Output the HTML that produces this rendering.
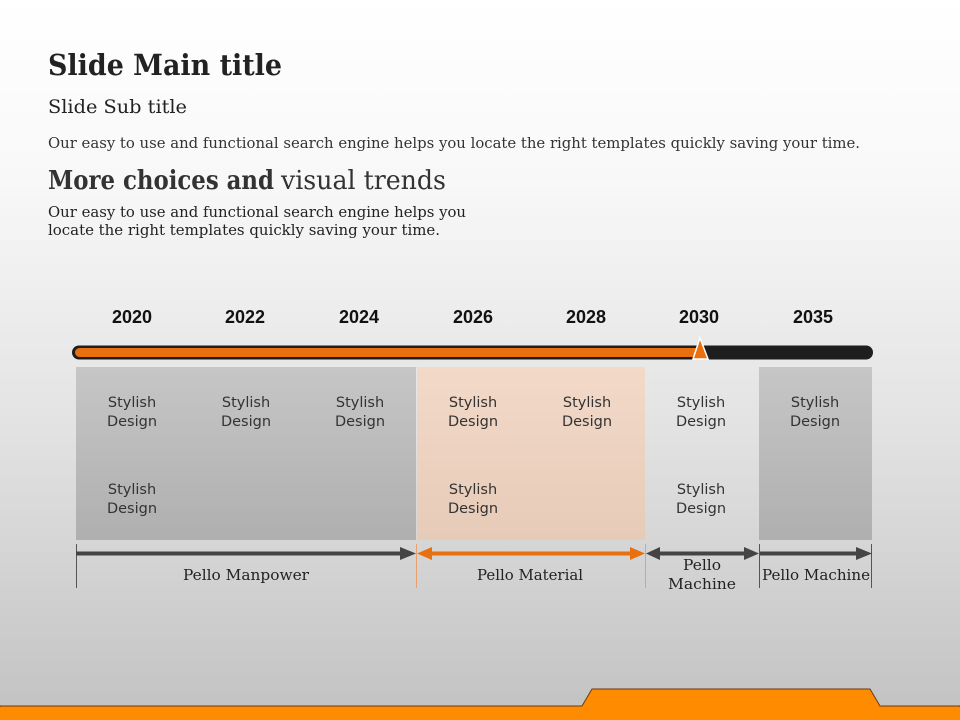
<!DOCTYPE html>
<html><head><meta charset="utf-8"><style>html,body{margin:0;padding:0;width:960px;height:720px;overflow:hidden}</style></head>
<body>
<svg width="960" height="720" viewBox="0 0 960 720" xmlns="http://www.w3.org/2000/svg">
<defs>
<linearGradient id="bg" x1="0" y1="0" x2="0" y2="1">
<stop offset="0" stop-color="#ffffff"/><stop offset="0.25" stop-color="#f8f8f8"/><stop offset="0.6" stop-color="#e2e2e2"/><stop offset="1" stop-color="#c2c2c2"/>
</linearGradient>
<linearGradient id="gr" x1="0" y1="0" x2="0" y2="1"><stop offset="0" stop-color="#c6c6c6"/><stop offset="1" stop-color="#afafaf"/></linearGradient>
<linearGradient id="or" x1="0" y1="0" x2="0" y2="1"><stop offset="0" stop-color="#f3d9c8"/><stop offset="1" stop-color="#e6cbb8"/></linearGradient>
</defs>
<rect width="960" height="720" fill="url(#bg)"/>
<g font-family="'DejaVu Serif', serif" fill="#222">
<text x="48" y="75" font-size="29" font-weight="bold" textLength="234" lengthAdjust="spacingAndGlyphs">Slide Main title</text>
<text x="48" y="113" font-size="19" textLength="139" lengthAdjust="spacingAndGlyphs">Slide Sub title</text>
<text x="48" y="148" font-size="15" fill="#333" textLength="812" lengthAdjust="spacingAndGlyphs">Our easy to use and functional search engine helps you locate the right templates quickly saving your time.</text>
<text x="48" y="189" font-size="26" font-weight="bold" fill="#333" textLength="226" lengthAdjust="spacingAndGlyphs">More choices and</text>
<text x="281" y="189" font-size="26" fill="#333" textLength="165" lengthAdjust="spacingAndGlyphs">visual trends</text>
<text x="48" y="217" font-size="14.5" textLength="418" lengthAdjust="spacingAndGlyphs">Our easy to use and functional search engine helps you</text>
<text x="48" y="235" font-size="14.5" textLength="392" lengthAdjust="spacingAndGlyphs">locate the right templates quickly saving your time.</text>
</g>
<g font-family="'Liberation Sans', sans-serif" font-weight="bold" font-size="18" fill="#111" text-anchor="middle">
<text x="132" y="323">2020</text><text x="245" y="323">2022</text><text x="359" y="323">2024</text><text x="473" y="323">2026</text><text x="586" y="323">2028</text><text x="699" y="323">2030</text><text x="813" y="323">2035</text>
</g>
<rect x="72" y="345.5" width="801" height="14" rx="7" fill="#1e1e1e"/>
<rect x="75" y="348" width="630" height="9" rx="4.5" fill="#e8700f"/>
<path d="M700 338 L693 359 L708 359 Z" fill="#e8700f" stroke="#fff" stroke-width="1.5"/>
<rect x="76" y="367" width="340" height="173" fill="url(#gr)"/>
<rect x="417" y="367" width="228" height="173" fill="url(#or)"/>
<rect x="759" y="367" width="113" height="173" fill="url(#gr)"/>
<g font-family="'DejaVu Sans', sans-serif" font-size="14.5" fill="#333" text-anchor="middle">
<text x="132" y="407">Stylish</text><text x="132" y="426">Design</text>
<text x="246" y="407">Stylish</text><text x="246" y="426">Design</text>
<text x="360" y="407">Stylish</text><text x="360" y="426">Design</text>
<text x="473" y="407">Stylish</text><text x="473" y="426">Design</text>
<text x="587" y="407">Stylish</text><text x="587" y="426">Design</text>
<text x="701" y="407">Stylish</text><text x="701" y="426">Design</text>
<text x="815" y="407">Stylish</text><text x="815" y="426">Design</text>
<text x="132" y="494">Stylish</text><text x="132" y="513">Design</text>
<text x="473" y="494">Stylish</text><text x="473" y="513">Design</text>
<text x="701" y="494">Stylish</text><text x="701" y="513">Design</text>
</g>
<g stroke-width="1">
<line x1="76.5" y1="544" x2="76.5" y2="588" stroke="#555"/>
<line x1="416.5" y1="544" x2="416.5" y2="588" stroke="#e8a070"/>
<line x1="645.5" y1="544" x2="645.5" y2="588" stroke="#e8a070"/>
<line x1="759.5" y1="544" x2="759.5" y2="588" stroke="#555"/>
<line x1="871.5" y1="544" x2="871.5" y2="588" stroke="#555"/>
</g>
<rect x="76" y="551.5" width="326" height="4" fill="#444"/><path d="M400 547 L416 553.5 L400 560 Z" fill="#444"/>
<rect x="430" y="551.5" width="202" height="4" fill="#e8700f"/><path d="M417 553.5 L432 547 L432 560 Z M645 553.5 L630 547 L630 560 Z" fill="#e8700f"/>
<rect x="658" y="551.5" width="88" height="4" fill="#444"/><path d="M646 553.5 L660 547 L660 560 Z M759 553.5 L744 547 L744 560 Z" fill="#444"/>
<rect x="760" y="551.5" width="98" height="4" fill="#444"/><path d="M856 547 L872 553.5 L856 560 Z" fill="#444"/>
<g font-family="'DejaVu Serif', serif" font-size="15" fill="#222" text-anchor="middle">
<text x="246" y="580" textLength="126" lengthAdjust="spacingAndGlyphs">Pello Manpower</text>
<text x="530" y="580" textLength="106" lengthAdjust="spacingAndGlyphs">Pello Material</text>
<text x="702" y="570" textLength="38" lengthAdjust="spacingAndGlyphs">Pello</text>
<text x="702" y="589" textLength="68" lengthAdjust="spacingAndGlyphs">Machine</text>
<text x="816" y="580" textLength="108" lengthAdjust="spacingAndGlyphs">Pello Machine</text>
</g>
<path d="M0 706 L582 706 L592 689 L870 689 L880 706 L960 706 L960 720 L0 720 Z" fill="#ff8c00" stroke="#6a3a10" stroke-width="1"/>
<rect x="0" y="707" width="960" height="13" fill="#ff8c00"/>
</svg>
</body></html>
